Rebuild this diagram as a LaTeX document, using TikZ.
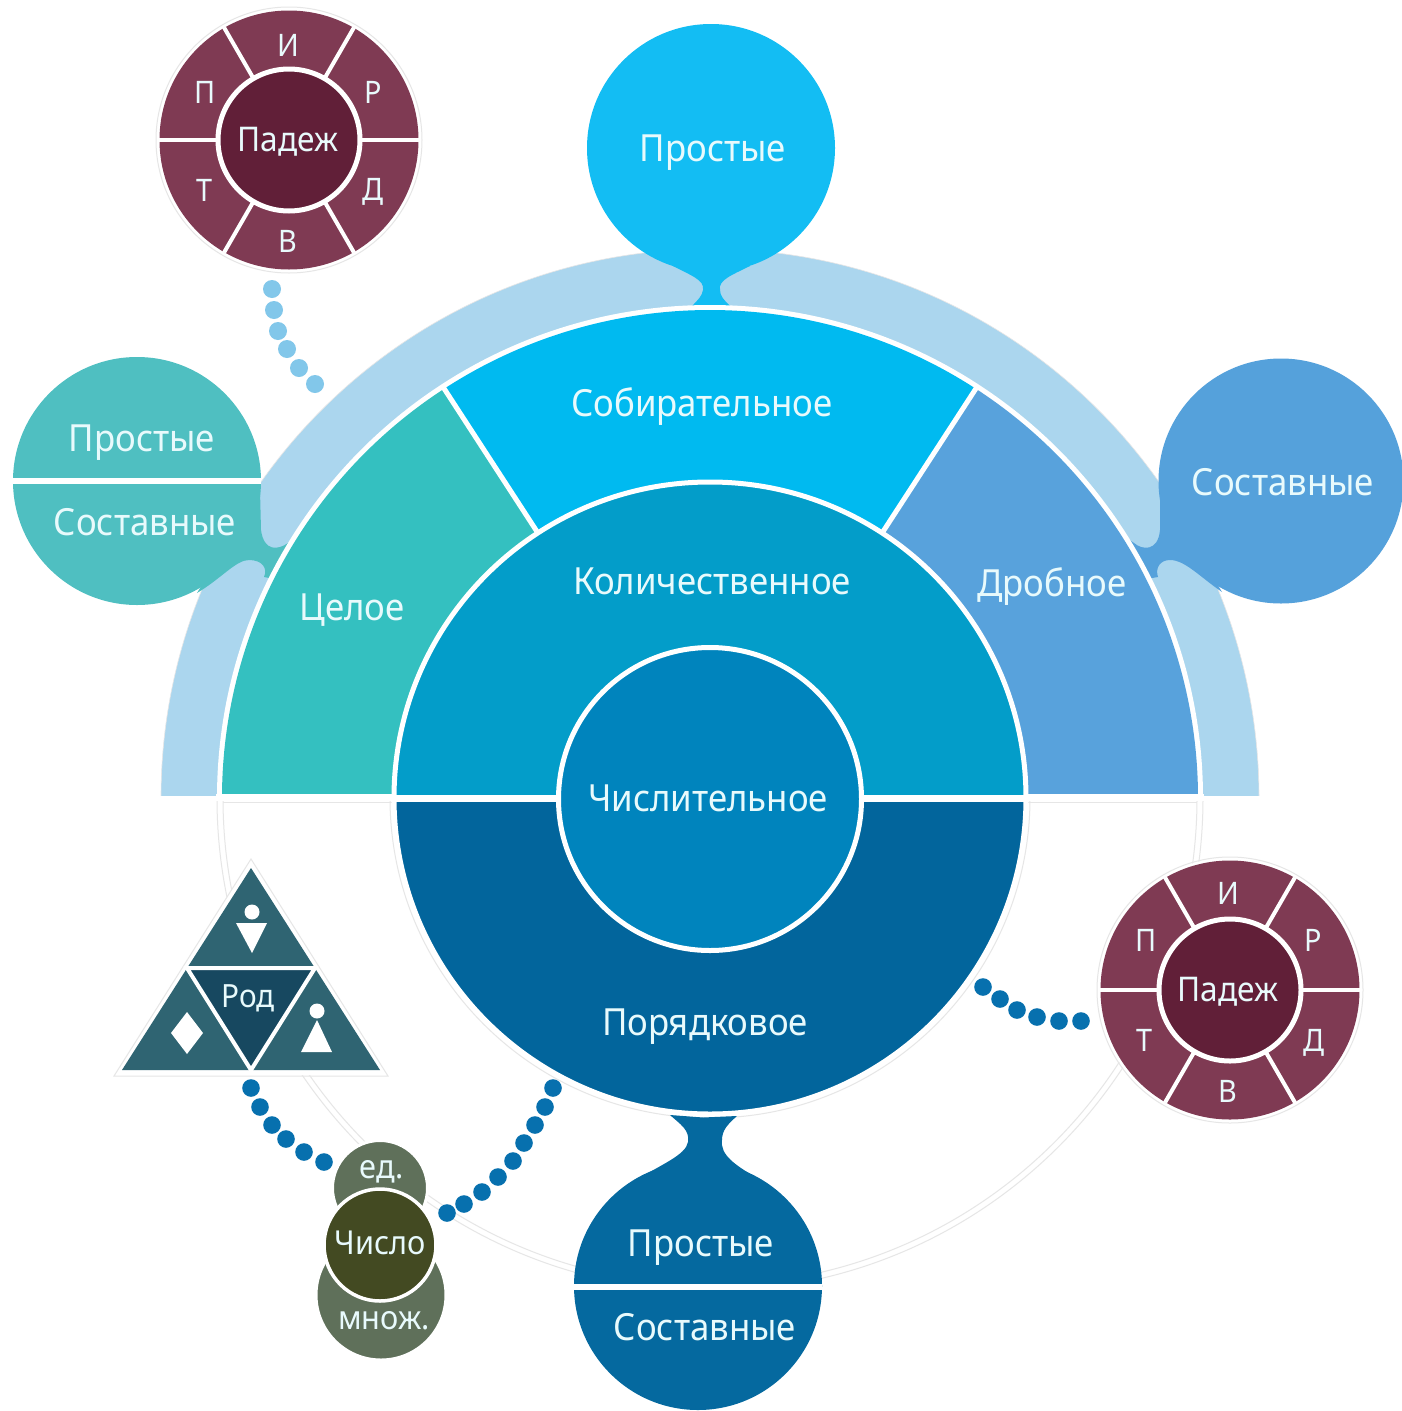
\documentclass[tikz,border=0pt]{standalone}
\usepackage{fontspec}
\setmainfont[FakeStretch=0.93]{Noto Sans}
\definecolor{cband}{HTML}{ABD6EE}
\definecolor{ctopb}{HTML}{13BDF3}
\definecolor{cleftb}{HTML}{4FBFC1}
\definecolor{crightb}{HTML}{55A1DB}
\definecolor{cbotb}{HTML}{05699F}
\definecolor{csob}{HTML}{00BAF0}
\definecolor{ccel}{HTML}{34C0C0}
\definecolor{cdrob}{HTML}{58A2DC}
\definecolor{ckol}{HTML}{039DC9}
\definecolor{cchis}{HTML}{0084BD}
\definecolor{cpor}{HTML}{02659C}
\definecolor{cpadO}{HTML}{7F3A53}
\definecolor{cpadI}{HTML}{611F38}
\definecolor{ctriO}{HTML}{2F6472}
\definecolor{ctriI}{HTML}{174860}
\definecolor{cnumO}{HTML}{5F705A}
\definecolor{cnumI}{HTML}{434A22}
\definecolor{cdotL}{HTML}{82C7EA}
\definecolor{cdotD}{HTML}{0770AE}
\definecolor{ctxt}{HTML}{E8FAFC}
\definecolor{cfaint}{HTML}{E6E6E6}
\tikzset{
  lbl/.style={text=ctxt,inner sep=0pt,font=\fontsize{37.4}{37.4}\selectfont},
  lblS/.style={lbl,font=\fontsize{34}{34}\selectfont},
  lblT/.style={lbl,font=\fontsize{31}{31}\selectfont},
  lblN/.style={lbl,font=\fontsize{33}{33}\selectfont},
  whiteline/.style={draw=white,line width=5pt},
  faint/.style={draw=cfaint,line width=1pt},
  dotL/.style={fill=cdotL},
  dotD/.style={fill=cdotD},
}
% padej wheel
\newcommand\padej[2]{%
  \fill[white] (#1) circle[radius=132pt];
  \draw[faint] (#1) circle[radius=133pt];
  \fill[cpadO] (#1) circle[radius=129.5pt];
  \foreach \a in {0,60,120,180,240,300}
    \draw[white,line width=4pt] (#1) -- ++(\a:130pt);
  \fill[cpadI,draw=white,line width=5pt] (#1) circle[radius=71pt];
}
\begin{document}
\begin{tikzpicture}[x=1pt,y=-1pt]
\useasboundingbox (0,0) rectangle (1402,1411);
\fill[white] (0,0) rectangle (1402,1411);
\coordinate (c) at (710,798);

% faint lower ring
\draw[faint] (c) ++(180:493pt) arc[start angle=180,end angle=360,radius=493pt];
\draw[faint] (c) ++(180:487pt) arc[start angle=180,end angle=360,radius=487pt];
\draw[faint] (223,802) -- (1197,802);
\draw[faint] (c) ++(180:320pt) arc[start angle=180,end angle=360,radius=320pt];

% band and sectors (upper half)
\begin{scope}
\clip (0,0) rectangle (1402,795);
\fill[cband] (c) circle[radius=549pt];
\draw[faint,line width=.6pt] (c) circle[radius=549pt];
\end{scope}

% blobs joining the bubbles to the band
\fill[ctopb] (673,266) .. controls (690,275) and (705,280) .. (703,290)
  .. controls (702,296) and (698,300) .. (692,306) -- (730,306)
  .. controls (724,300) and (720,296) .. (720,290)
  .. controls (718,280) and (732,275) .. (750,266) -- cycle;
\fill[cleftb] (197,593) .. controls (222,578) and (236,560) .. (249,560)
  .. controls (262,560) and (268,568) .. (264,577) -- (280,580) -- (300,535)
  -- (288,543) .. controls (278,550) and (264,552) .. (261,530)
  -- (260,490) -- cycle;
\fill[crightb] (1222,592) .. controls (1200,577) and (1185,560) .. (1170,560)
  .. controls (1160,560) and (1155,568) .. (1158,577) -- (1140,580) -- (1122,535)
  -- (1134,543) .. controls (1142,550) and (1158,552) .. (1160,530)
  -- (1160,490) -- cycle;

% bubbles
\node[circle,fill=ctopb,minimum size=248pt,inner sep=0pt] (bTop) at (711,148) {};
\node[circle,fill=cleftb,minimum size=248pt,inner sep=0pt] (bLeft) at (137,481) {};
\node[circle,fill=crightb,minimum size=245pt,inner sep=0pt] (bRight) at (1281,481) {};
\fill[white] (13,478) rectangle (261,484);

% sectors
\begin{scope}
\clip (0,0) rectangle (1402,795);
\fill[white] (c) circle[radius=493pt];
\fill[ccel] (c) -- ++(123:488pt) arc[start angle=123,end angle=180,radius=488pt] -- cycle;
\fill[csob] (c) -- ++(57:488pt) arc[start angle=57,end angle=123,radius=488pt] -- cycle;
\fill[cdrob] (c) -- ++(0:488pt) arc[start angle=0,end angle=57,radius=488pt] -- cycle;
\draw[whiteline] (c) -- ++(123:490pt);
\draw[whiteline] (c) -- ++(57:490pt);
\end{scope}
\fill[white] (216,794) rectangle (1204,801);

% central half discs
\begin{scope}
\clip (0,0) rectangle (1402,795);
\fill[ckol,draw=white,line width=5pt] (c) circle[radius=316pt];
\end{scope}
\begin{scope}
\clip (0,801) rectangle (1402,1411);
\fill[cpor,draw=white,line width=5pt] (c) circle[radius=316pt];
\end{scope}
\draw[white,line width=7pt] (392,798) -- (1028,798);

% bottom bubble and neck
\fill[cbotb] (670,1115) .. controls (680,1124) and (690,1130) .. (688,1142)
  .. controls (686,1155) and (660,1165) .. (640,1178) -- (757,1178)
  .. controls (735,1165) and (720,1155) .. (722,1140)
  .. controls (722,1130) and (728,1124) .. (737,1116) -- (703,1117.5) -- cycle;
\node[circle,fill=cbotb,minimum size=248pt,inner sep=0pt] (bBot) at (698,1286) {};
\fill[white] (574,1284) rectangle (822,1290);

% centre
\node[circle,fill=cchis,draw=white,line width=5pt,minimum size=303pt,inner sep=0pt] (bChis) at (710,799) {};

% main labels
\node[lbl] (tTop) at (713,153) {Простые};
\node[lbl] (tL1) at (142,443) {Простые};
\node[lbl] (tL2) at (145,522) {Составные};
\node[lbl] (tR) at (1283,482) {Составные};
\node[lbl] (tB1) at (701,1248) {Простые};
\node[lbl] (tB2) at (705,1327) {Составные};
\node[lbl] (tSob) at (702,407) {Собирательное};
\node[lbl] (tKol) at (712,581) {Количественное};
\node[lbl] (tChi) at (708,798) {Числительное};
\node[lbl] (tPor) at (705,1027) {Порядковое};
\node[lbl] (tCel) at (352,610) {Целое};
\node[lbl] (tDro) at (1052,587) {Дробное};

% padej wheels
\coordinate (p1) at (289,140);
\coordinate (p2) at (1230,990);
\padej{p1}{}
\padej{p2}{}
\node[lblS] (p1c) at (288,142) {Падеж};
\node[lblT] (p1i) at (288,45) {И};
\node[lblT] (p1r) at (373,92) {Р};
\node[lblT] (p1d) at (373,192) {Д};
\node[lblT] (p1v) at (288,241) {В};
\node[lblT] (p1t) at (205,190) {Т};
\node[lblT] (p1p) at (205,92) {П};
\node[lblS] (p2c) at (1228,992) {Падеж};
\node[lblT] (p2i) at (1228,893) {И};
\node[lblT] (p2r) at (1313,940) {Р};
\node[lblT] (p2d) at (1314,1043) {Д};
\node[lblT] (p2v) at (1228,1091) {В};
\node[lblT] (p2t) at (1145,1040) {Т};
\node[lblT] (p2p) at (1146,940) {П};

% triangle
\fill[white] (251,860) -- (387,1075) -- (115,1075) -- cycle;
\draw[faint,line join=miter] (251,859) -- (388,1076) -- (114,1076) -- cycle;
\fill[ctriO] (251,868) -- (380,1070) -- (122,1070) -- cycle;
\fill[ctriI] (187,968) -- (315,968) -- (251,1068) -- cycle;
\draw[white,line width=4pt] (187,968) -- (315,968) -- (251,1070) -- cycle;
\fill[white] (252,912) circle[radius=7.5pt];
\fill[white] (236,923) -- (267,923) -- (252,953) -- cycle;
\fill[white] (317,1011) circle[radius=7.5pt];
\fill[white] (317,1020) -- (332,1052) -- (301,1052) -- cycle;
\fill[white] (187,1012) -- (203,1033) -- (187,1054) -- (171,1033) -- cycle;
\node[lblT,font=\fontsize{32}{32}\selectfont] (tRod) at (248,998) {Род};

% number group
\node[circle,fill=cnumO,draw=white,line width=3pt,minimum size=95pt,inner sep=0pt] (nEd) at (380,1188) {};
\node[circle,fill=cnumO,draw=white,line width=3pt,minimum size=130pt,inner sep=0pt] (nMn) at (381,1295) {};
\node[circle,fill=cnumI,draw=white,line width=3.5pt,minimum size=112pt,inner sep=0pt] (nCh) at (380,1245) {};
\node[lblN] (tEd) at (382,1172) {ед.};
\node[lblN] (tCh) at (380,1243) {Число};
\node[lblN] (tMn) at (384,1321) {множ.};

% dotted links
\foreach \p in {(272,289),(274,310),(278,331),(287,349),(299,368),(315,384)}
  \fill[dotL] \p circle[radius=9pt];
\foreach \p in {(983,987),(1000,999),(1017,1010),(1037,1017),(1059,1021),(1081,1021),
  (251,1088),(260,1107),(272,1125),(286,1139),(304,1152),(324,1162),
  (553,1088),(545,1107),(535,1125),(524,1143),(513,1161),(498,1177),(482,1192),(464,1204),(447,1213)}
  \fill[dotD] \p circle[radius=8.8pt];
\end{tikzpicture}
\end{document}
